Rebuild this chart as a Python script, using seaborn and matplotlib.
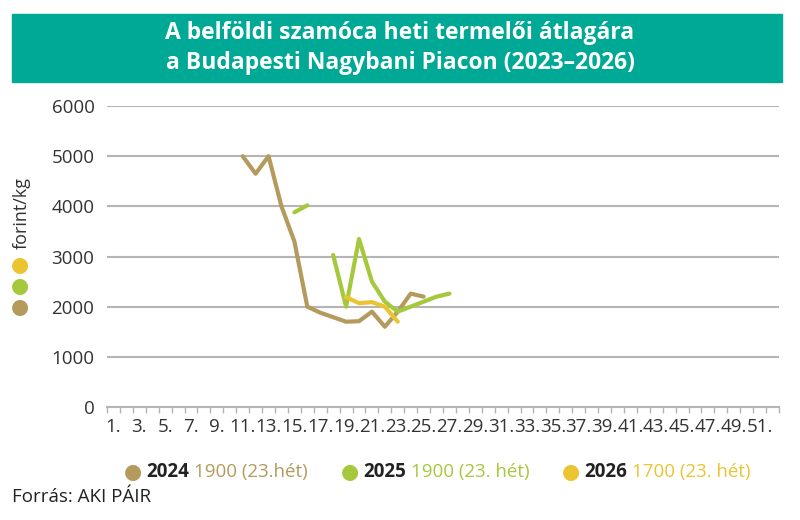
import numpy as np
import pandas as pd
import seaborn as sns
import matplotlib.pyplot as plt
from matplotlib.patches import Rectangle

sns.set_theme(style="white")
plt.rcParams["font.family"] = ["Open Sans", "DejaVu Sans"]

# weekly producer prices (forint/kg), week number -> price
weeks_2024 = [11, 12, 13, 14, 15, 16, 17, 18, 19, 20, 21, 22, 23, 24, 25]
price_2024 = [5000, 4650, 5000, 4000, 3300, 2000, 1880, 1790, 1700, 1710, 1900, 1600, 1900, 2260, 2200]

weeks_2025a = [15, 16]
price_2025a = [3880, 4020]
weeks_2025b = [18, 19, 20, 21, 22, 23, 24, 25, 26, 27]
price_2025b = [3030, 2000, 3350, 2500, 2100, 1900, 2000, 2100, 2200, 2260]

weeks_2026 = [19, 20, 21, 22, 23]
price_2026 = [2190, 2070, 2090, 2000, 1700]

years = ["2024", "2025", "2026"]
legend_vals = ["1900 (23.hét)", "1900 (23. hét)", "1700 (23. hét)"]
colors = {"2024": "#B49A5C", "2025": "#A6C83C", "2026": "#EAC431"}
teal = "#00A896"

parts = [
    ("2024", "a", weeks_2024, price_2024),
    ("2025", "a", weeks_2025a, price_2025a),
    ("2025", "b", weeks_2025b, price_2025b),
    ("2026", "a", weeks_2026, price_2026),
]
df = pd.concat(
    [pd.DataFrame({"year": y, "seg": y + s, "week": w, "price": p}) for y, s, w, p in parts],
    ignore_index=True,
)

fig = plt.figure(figsize=(8, 5.2), dpi=100)
ax = fig.add_axes([107 / 800, 1 - 407 / 520, 672 / 800, 301 / 520])

sns.lineplot(data=df, x="week", y="price", hue="year", units="seg", estimator=None,
             palette=colors, linewidth=3, ax=ax, legend=False, zorder=3)

ax.set_xlim(0.5, 52.5)
ax.set_ylim(0, 6000)
ax.set_yticks(range(0, 6001, 1000))
for yv in range(1000, 6001, 1000):
    ax.axhline(yv, color="#b5b5b5", lw=1.5, zorder=1)

ax.set_xticks(range(1, 53, 2))
ax.set_xticklabels([f"{w}." for w in range(1, 53, 2)])
ax.set_xticks(np.arange(0.5, 53, 1), minor=True)
ax.tick_params(axis="x", which="major", length=0, pad=8, labelsize=13.5, colors="#333333")
ax.tick_params(axis="x", which="minor", bottom=True, length=4, width=1, color="#b5b5b5")
ax.tick_params(axis="y", length=0, pad=9, labelsize=13.5, colors="#333333")
for s in ["top", "right", "left"]:
    ax.spines[s].set_visible(False)
ax.spines["bottom"].set_color("#b5b5b5")
ax.spines["bottom"].set_linewidth(1.5)
ax.set_xlabel("")
ax.set_ylabel("")

# title banner
fig.patches.append(Rectangle((12 / 800, 1 - 82 / 520), 770 / 800, 68 / 520,
                             transform=fig.transFigure, color=teal, zorder=0))
fig.text(0.5, 1 - 48 / 520,
         "A belföldi szamóca heti termelői átlagára\na Budapesti Nagybani Piacon (2023–2026)",
         ha="center", va="center", color="white", fontsize=16.5, fontweight="bold",
         linespacing=1.3)

# left y label with coloured dots
fig.text(22 / 800, 1 - 213 / 520, "forint/kg", rotation=90, ha="center", va="center",
         fontsize=13, color="#333333")
for yy, yr in zip([265, 286, 307], ["2026", "2025", "2024"]):
    fig.text(20 / 800, 1 - yy / 520, "●", ha="center", va="center", fontsize=15,
             color=colors[yr], family="DejaVu Sans")

# bottom legend
dot_x = [133, 350, 571]
ly = 1 - 472 / 520
for x0, yr, val in zip(dot_x, years, legend_vals):
    fig.text(x0 / 800, ly, "●", ha="center", va="center", fontsize=15,
             color=colors[yr], family="DejaVu Sans")
    t = fig.text((x0 + 13) / 800, ly, yr, ha="left", va="center", fontsize=13.5,
                 fontweight="bold", color="#222222")
    ax.annotate(val, xy=(1, 0.5), xycoords=t, xytext=(4, 0), textcoords="offset points",
                ha="left", va="center", fontsize=13.5, color=colors[yr],
                annotation_clip=False)

fig.text(12 / 800, 1 - 497 / 520, "Forrás: AKI PÁIR", ha="left", va="center",
         fontsize=13.5, color="#222222")

fig.savefig("out.png", dpi=100)
